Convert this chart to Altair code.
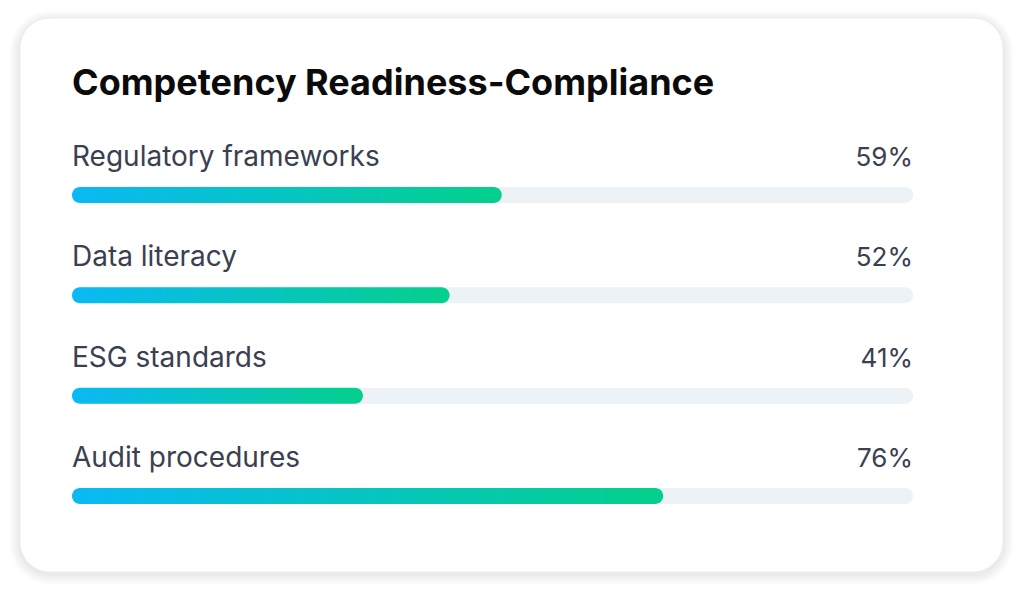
import altair as alt
import pandas as pd

# ---- data ----
skills = ["Regulatory frameworks", "Data literacy", "ESG standards", "Audit procedures"]
pct_labels = ["59%", "52%", "41%", "76%"]          # numbers printed on the card
bar_fill = [51.1, 44.9, 34.6, 70.3]                # filled share of each track (as drawn)
title_text = "Competency Readiness-Compliance"

df = pd.DataFrame({
    "row": list(range(len(skills))),
    "skill": skills,
    "pct": pct_labels,
    "fill": bar_fill,
})

FONT = "Inter"
LABEL_COLOR = "#3a4050"
W, H = 983, 554

xs = alt.Scale(domain=[-6.18, 110.70], nice=False, zero=False, padding=0)
ys = alt.Scale(domain=[-1.765, 3.758], nice=False, zero=False, reverse=True, padding=0)

# ---- card background with soft shadow (decoration) ----
one = pd.DataFrame({"k": [0]})
card_layers = []
for i in range(5, 0, -1):
    g = i * 2
    card_layers.append(
        alt.Chart(one).mark_rect(
            cornerRadius=30 + g, color="#000000", opacity=0.014
        ).encode(
            x=alt.value(-g), x2=alt.value(W + g),
            y=alt.value(-g + 3), y2=alt.value(H + g + 2),
        )
    )
card_layers.append(
    alt.Chart(one).mark_rect(
        cornerRadius=30, color="#ffffff", stroke="#ececec", strokeWidth=1
    ).encode(x=alt.value(0), x2=alt.value(W), y=alt.value(0), y2=alt.value(H))
)

base = alt.Chart(df).transform_calculate(start="0", end="100")

X0 = alt.X("start:Q", scale=xs, axis=None)
Y = alt.Y("row:Q", scale=ys, axis=None)

track = base.mark_bar(
    orient="horizontal", size=16, cornerRadius=8, color="#edf2f7"
).encode(x=X0, x2=alt.X2("end:Q"), y=Y)

grad = alt.LinearGradient(
    gradient="linear",
    stops=[alt.GradientStop(offset=0, color="#0ab9f5"),
           alt.GradientStop(offset=1, color="#04d08b")],
    x1=0, x2=1, y1=0, y2=0,
)

bars = base.mark_bar(
    orient="horizontal", size=16, cornerRadius=8, fill=grad
).encode(x=X0, x2=alt.X2("fill:Q"), y=Y)

labels = base.mark_text(
    align="left", baseline="alphabetic", yOffset=-29,
    font=FONT, fontSize=28, color=LABEL_COLOR,
).encode(x=X0, y=Y, text="skill:N")

pcts = base.mark_text(
    align="right", baseline="alphabetic", yOffset=-29,
    font=FONT, fontSize=26, color=LABEL_COLOR,
).encode(x=alt.X("end:Q", scale=xs, axis=None), y=Y, text="pct:N")

chart = alt.layer(*card_layers, track, bars, labels, pcts).properties(
    width=W,
    height=H,
    background="white",
    autosize=alt.AutoSizeParams(type="none"),
    padding={"left": 12, "top": 10, "right": 12, "bottom": 12},
    title=alt.TitleParams(
        text=title_text, anchor="start", frame="group", orient="top",
        font=FONT, fontSize=36, fontWeight="bold", color="#0b0b0b",
        baseline="alphabetic", offset=0, dx=52, dy=120,
    ),
).configure_view(
    fill="transparent", stroke="transparent", strokeWidth=0,
)

chart.save("out.html", embed_options={"renderer": "svg", "actions": False})
